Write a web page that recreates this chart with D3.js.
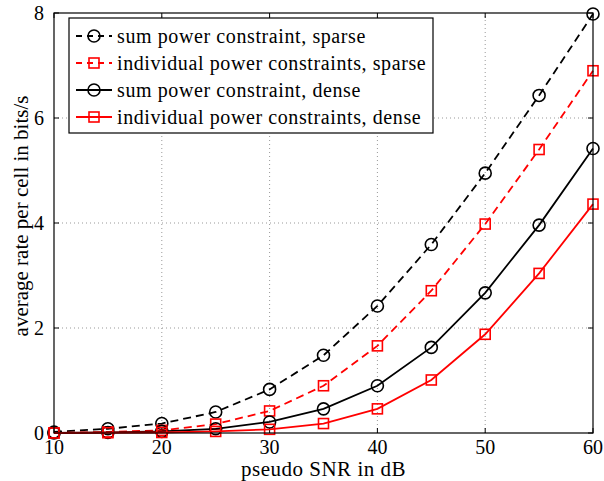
<!DOCTYPE html>
<html lang="en">
<head>
    <meta charset="UTF-8">
    <title>Average rate per cell</title>
    <script src="https://d3js.org/d3.v7.min.js"></script>
    <style>
        body { margin: 0; background: #fff; }
        svg { display: block; }
        text { font-family: "Liberation Serif", "Times New Roman", serif; fill: #000; }
        .grid line { stroke: #999; stroke-width: 1; stroke-dasharray: 1,3; }
        .tick-label { font-size: 20px; }
        .axis-label { font-size: 21px; }
        .x-label { letter-spacing: 0.5px; }
        .legend text { font-size: 20px; letter-spacing: 0.6px; }
    </style>
</head>
<body>
<script>
    // data
    const snr = [10, 15, 20, 25, 30, 35, 40, 45, 50, 55, 60];
    const sumSparse = [0.02, 0.08, 0.18, 0.40, 0.83, 1.48, 2.42, 3.59, 4.95, 6.43, 7.98];
    const indSparse = [0.00, 0.02, 0.05, 0.17, 0.42, 0.90, 1.66, 2.71, 3.98, 5.40, 6.90];
    const sumDense = [0.00, 0.01, 0.03, 0.08, 0.21, 0.46, 0.90, 1.63, 2.67, 3.96, 5.42];
    const indDense = [0.00, 0.005, 0.01, 0.03, 0.07, 0.18, 0.46, 1.01, 1.88, 3.04, 4.36];
    const xTicks = [10, 20, 30, 40, 50, 60];
    const yTicks = [0, 2, 4, 6, 8];

    const series = [
        { name: "sum power constraint, sparse", values: sumSparse, color: "#000", dash: "8,5", marker: "circle" },
        { name: "individual power constraints, sparse", values: indSparse, color: "#ff0000", dash: "8,5", marker: "square" },
        { name: "sum power constraint, dense", values: sumDense, color: "#000", dash: null, marker: "circle" },
        { name: "individual power constraints, dense", values: indDense, color: "#ff0000", dash: null, marker: "square" }
    ];

    const width = 604, height = 481;
    const margin = { left: 54, right: 11, top: 13, bottom: 48 };
    const x0 = margin.left, x1 = width - margin.right;
    const y0 = height - margin.bottom, y1 = margin.top;

    const x = d3.scaleLinear().domain([10, 60]).range([x0, x1]);
    const y = d3.scaleLinear().domain([0, 8]).range([y0, y1]);

    const svg = d3.select("body").append("svg")
        .attr("width", width)
        .attr("height", height);

    // dotted grid
    const grid = svg.append("g").attr("class", "grid");
    grid.selectAll(".vx").data(xTicks.slice(1, -1)).enter().append("line")
        .attr("x1", d => x(d)).attr("x2", d => x(d))
        .attr("y1", y0).attr("y2", y1);
    grid.selectAll(".hy").data(yTicks.slice(1, -1)).enter().append("line")
        .attr("x1", x0).attr("x2", x1)
        .attr("y1", d => y(d)).attr("y2", d => y(d));

    // inward ticks on all four sides
    const tickLen = 5;
    const ticks = svg.append("g").attr("stroke", "#000").attr("stroke-width", 1);
    xTicks.forEach(t => {
        ticks.append("line").attr("x1", x(t)).attr("x2", x(t)).attr("y1", y0).attr("y2", y0 - tickLen);
        ticks.append("line").attr("x1", x(t)).attr("x2", x(t)).attr("y1", y1).attr("y2", y1 + tickLen);
    });
    yTicks.forEach(t => {
        ticks.append("line").attr("x1", x0).attr("x2", x0 + tickLen).attr("y1", y(t)).attr("y2", y(t));
        ticks.append("line").attr("x1", x1).attr("x2", x1 - tickLen).attr("y1", y(t)).attr("y2", y(t));
    });

    // tick labels
    svg.append("g").selectAll("text").data(xTicks).enter().append("text")
        .attr("class", "tick-label")
        .attr("x", d => x(d))
        .attr("y", y0 + 21)
        .attr("text-anchor", "middle")
        .text(d => d);
    svg.append("g").selectAll("text").data(yTicks).enter().append("text")
        .attr("class", "tick-label")
        .attr("x", x0 - 10)
        .attr("y", d => y(d))
        .attr("dy", "0.35em")
        .attr("text-anchor", "end")
        .text(d => d);

    // axis labels
    svg.append("text")
        .attr("class", "axis-label x-label")
        .attr("x", (x0 + x1) / 2)
        .attr("y", y0 + 43)
        .attr("text-anchor", "middle")
        .text("pseudo SNR in dB");
    svg.append("text")
        .attr("class", "axis-label")
        .attr("transform", `translate(28, ${(y0 + y1) / 2 - 7}) rotate(-90)`)
        .attr("text-anchor", "middle")
        .text("average rate per cell in bits/s");

    // lines and markers
    const line = d3.line()
        .x((d, i) => x(snr[i]))
        .y(d => y(d));

    function drawMarker(g, type, color) {
        if (type === "circle") {
            g.append("circle").attr("r", 6)
                .attr("fill", "none").attr("stroke", color).attr("stroke-width", 1.6);
        } else {
            g.append("rect").attr("x", -5).attr("y", -5).attr("width", 10).attr("height", 10)
                .attr("fill", "none").attr("stroke", color).attr("stroke-width", 1.6);
        }
    }

    series.forEach(s => {
        svg.append("path")
            .datum(s.values)
            .attr("d", line)
            .attr("fill", "none")
            .attr("stroke", s.color)
            .attr("stroke-width", 1.8)
            .attr("stroke-dasharray", s.dash);
        s.values.forEach((v, i) => {
            const g = svg.append("g").attr("transform", `translate(${x(snr[i])},${y(v)})`);
            drawMarker(g, s.marker, s.color);
        });
    });

    // frame
    svg.append("rect")
        .attr("x", x0).attr("y", y1)
        .attr("width", x1 - x0).attr("height", y0 - y1)
        .attr("fill", "none").attr("stroke", "#000").attr("stroke-width", 1.2);

    // legend
    const legend = svg.append("g").attr("class", "legend");
    legend.append("rect")
        .attr("x", 69).attr("y", 18)
        .attr("width", 364).attr("height", 115)
        .attr("fill", "#fff").attr("stroke", "#000").attr("stroke-width", 1.2);
    series.forEach((s, i) => {
        const row = legend.append("g").attr("transform", `translate(0, ${36 + i * 27})`);
        row.append("line")
            .attr("x1", 76).attr("x2", 112).attr("y1", 0).attr("y2", 0)
            .attr("stroke", s.color).attr("stroke-width", 1.8)
            .attr("stroke-dasharray", s.dash ? "6,5" : null);
        const m = row.append("g").attr("transform", "translate(94,0)");
        drawMarker(m, s.marker, s.color);
        row.append("text")
            .attr("x", 117).attr("y", 0).attr("dy", "0.35em")
            .text(s.name);
    });
</script>
</body>
</html>
